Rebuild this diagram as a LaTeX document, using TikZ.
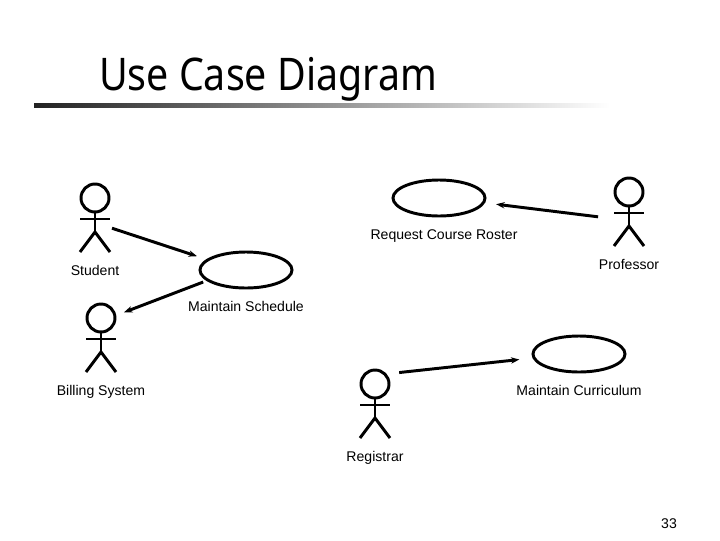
\documentclass[tikz,border=0pt]{standalone}
\usepackage{fontspec}
\setmainfont{Liberation Sans}
\newfontfamily\titlefont[FakeStretch=0.875]{Noto Sans}
\usepackage{xcolor}
\usepackage{tikz}
\usetikzlibrary{arrows.meta, shapes.geometric}
\definecolor{rulegris}{HTML}{222222}

\begin{document}
\begin{tikzpicture}[
    x=0.025cm, y=-0.025cm,
    every node/.style={font=\fontsize{10}{12}\selectfont, inner sep=0pt, outer sep=0pt},
    usecase/.style={draw, ellipse, line width=2.1pt, minimum width=2.3cm, minimum height=0.9cm},
    actorbox/.style={minimum width=0.85cm, minimum height=1.7cm},
    caption/.style={anchor=base},
    link/.style={-{Stealth[length=6pt, width=4.5pt]}, line width=2.1pt}
]
\useasboundingbox (0,0) rectangle (720,540);

\node[font=\titlefont\fontsize{32}{36}\selectfont, anchor=base west] (title) at (99,90) {Use Case Diagram};
\shade[left color=rulegris, right color=white] (34,103) rectangle (610,107);

% actors
\foreach \name/\ax/\ay in {student/95/218, billing/101/338, professor/629/212, registrar/375/404} {
    \node[actorbox] (\name) at (\ax,\ay) {};
    \draw[line width=2.1pt] (\ax,\ay-20) circle (14);
    \draw[line width=2.1pt] (\ax,\ay-6) -- (\ax,\ay+14) (\ax-15,\ay+1) -- (\ax+15,\ay+1);
    \draw[line width=2.1pt] (\ax-15,\ay+34) -- (\ax,\ay+14) -- (\ax+15,\ay+34);
}

% use cases
\node[usecase] (roster) at (439,198) {};
\node[usecase] (schedule) at (246,270) {};
\node[usecase] (curriculum) at (579,354) {};

% labels
\node[caption] (studentlabel) at (95,275) {Student};
\node[caption] (billinglabel) at (101,395) {Billing System};
\node[caption] (professorlabel) at (629,269) {Professor};
\node[caption] (registrarlabel) at (375,461) {Registrar};
\node[caption] (rosterlabel) at (444,239) {Request Course Roster};
\node[caption] (schedulelabel) at (246,311) {Maintain Schedule};
\node[caption] (curriculumlabel) at (579,395) {Maintain Curriculum};
\node[caption] (pagenumber) at (669,528) {33};

% links
\draw[link, shorten >=0.29cm] (student.-31) -- (schedule.165);
\draw[link, shorten <=0.13cm, shorten >=0.16cm] (schedule.195.6) -- (billing.54.7);
\draw[link, shorten <=0.35cm, shorten >=0.32cm] (professor.201.8) -- (roster.-6);
\draw[link, shorten <=0.18cm, shorten >=0.37cm] (registrar.61.5) -- (curriculum.185.8);
\end{tikzpicture}
\end{document}
